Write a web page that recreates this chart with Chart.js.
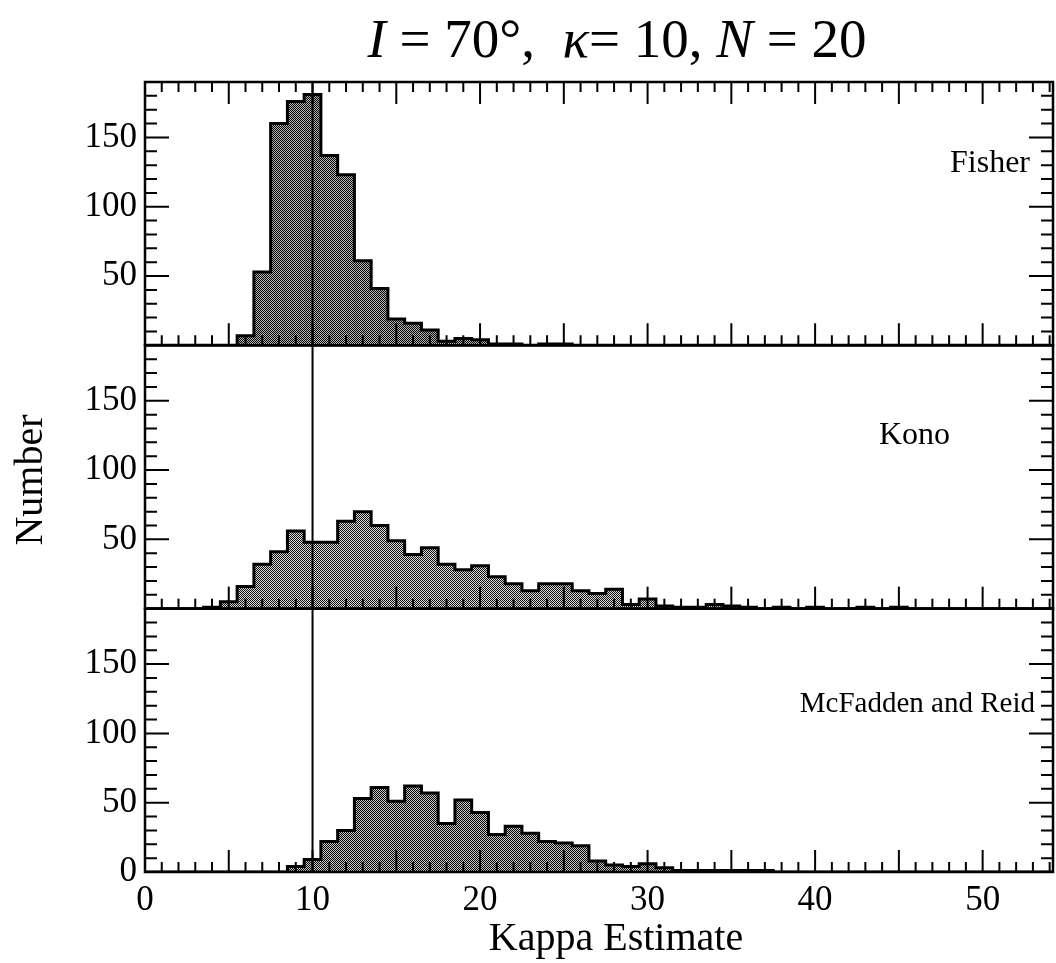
<!DOCTYPE html>
<html>
<head>
<meta charset="utf-8">
<script src="https://cdn.jsdelivr.net/npm/chart.js@4/dist/chart.umd.min.js"></script>
<style>
  html, body { margin: 0; padding: 0; background: #fff; }
  #wrap { width: 1056px; height: 963px; position: relative; }
</style>
</head>
<body>
<div id="wrap"><canvas id="c" width="1056" height="963"></canvas></div>
<script>
// Histogram bin centres (kappa estimate, bins one unit wide)
const kappaBins = [0,1,2,3,4,5,6,7,8,9,10,11,12,13,14,15,16,17,18,19,20,21,22,23,24,25,26,27,
  28,29,30,31,32,33,34,35,36,37,38,39,40,41,42,43,44,45,46,47,48,49,50,51,52,53,54];

// Counts per bin for each estimator
const fisherCounts = [0,0,0,0,0,0,7,53,160,176,181,137,123,61,41,19,16,11,3,5,4,1,1,0,1,1,0,0,
  0,0,0,0,0,0,0,0,0,0,0,0,0,0,0,0,0,0,0,0,0,0,0,0,0,0,0];
const konoCounts = [0,0,0,0,1,5,16,32,41,56,48,48,63,70,60,49,39,44,32,28,31,23,18,13,18,18,13,11,
  14,3,7,2,1,1,3,2,1,0,1,0,1,0,0,1,0,1,0,0,0,0,0,0,0,0,0];
const mcfaddenCounts = [0,0,0,0,0,0,0,0,0,4,9,22,30,53,61,51,62,57,35,52,43,27,33,28,22,21,19,8,
  5,4,6,3,1,1,1,1,1,1,0,0,0,0,0,0,0,0,0,0,0,0,0,0,0,0,0];

const panelNames = ['Fisher', 'Kono', 'McFadden and Reid'];
const xTickLabels = [0, 10, 20, 30, 40, 50];
const upperTickLabels = [50, 100, 150];
const lowerTickLabels = [0, 50, 100, 150];
const trueKappa = 10;

const SERIF = "'Liberation Serif', 'Times New Roman', serif";

// fine checker texture for the histogram fill
function checkerFill(dark, light) {
  const t = document.createElement('canvas');
  t.width = 2; t.height = 2;
  const g = t.getContext('2d');
  g.fillStyle = light; g.fillRect(0, 0, 2, 2);
  g.fillStyle = dark;
  g.fillRect(0, 0, 1, 1); g.fillRect(1, 1, 1, 1);
  return g.createPattern(t, 'repeat');
}

function histogram(counts, axisId, fill) {
  const last = kappaBins[kappaBins.length - 1];
  return [
    {
      type: 'bar',
      data: kappaBins.map((k, i) => ({ x: k, y: counts[i] })),
      yAxisID: axisId,
      backgroundColor: fill,
      borderWidth: 0,
      barPercentage: 1,
      categoryPercentage: 1,
      grouped: false,
      order: 2
    },
    {
      // step outline running along the bin edges
      type: 'line',
      data: kappaBins.map((k, i) => ({ x: k - 0.5, y: counts[i] })).concat([{ x: last + 0.5, y: 0 }]),
      yAxisID: axisId,
      stepped: 'before',
      borderColor: '#000',
      borderWidth: 3,
      pointRadius: 0,
      fill: false,
      order: 1
    }
  ];
}

function yAxis(labels) {
  return {
    type: 'linear',
    position: 'left',
    stack: 'panels',
    stackWeight: 1,
    min: 0,
    max: 190,
    grid: { display: false, drawTicks: false },
    border: { display: false },
    ticks: { color: '#000', font: { family: SERIF, size: 35 }, padding: 8 },
    afterBuildTicks: s => { s.ticks = labels.map(v => ({ value: v })); },
    afterFit: s => { s.width = 145; }
  };
}

const decor = {
  id: 'decor',
  afterDatasetsDraw(chart) {
    const { ctx, chartArea: a, scales } = chart;
    const x = scales.x;
    const panels = [scales.yF, scales.yK, scales.yM];
    ctx.save();
    ctx.strokeStyle = '#000';
    ctx.lineCap = 'butt';

    // reference line at the true kappa
    const kx = x.getPixelForValue(trueKappa);
    ctx.lineWidth = 2;
    ctx.beginPath(); ctx.moveTo(kx, a.top); ctx.lineTo(kx, a.bottom); ctx.stroke();

    panels.forEach((s, p) => {
      ctx.lineWidth = 2;
      // y ticks on both sides
      for (let v = 10; v < s.max; v += 10) {
        const py = s.getPixelForValue(v);
        const len = v % 50 === 0 ? 24 : 12;
        ctx.beginPath();
        ctx.moveTo(a.left, py); ctx.lineTo(a.left + len, py);
        ctx.moveTo(a.right, py); ctx.lineTo(a.right - len, py);
        ctx.stroke();
      }
      // x ticks along the bottom edge of the panel
      for (let k = 1; k < x.max; k++) {
        const px = x.getPixelForValue(k);
        const len = k % 5 === 0 ? 22 : 10;
        ctx.beginPath();
        ctx.moveTo(px, s.bottom); ctx.lineTo(px, s.bottom - len);
        if (p === 0) { ctx.moveTo(px, s.top); ctx.lineTo(px, s.top + len); }
        ctx.stroke();
      }
      // panel frame
      ctx.lineWidth = 2.5;
      ctx.strokeRect(a.left, s.top, a.right - a.left, s.bottom - s.top);
    });

    // panel names
    ctx.fillStyle = '#000';
    ctx.textBaseline = 'alphabetic';
    ctx.textAlign = 'right';
    const namePos = [[1030, 172, 32], [950, 444, 32], [1035, 712, 29]];
    panelNames.forEach((n, i) => {
      const [nx, ny, fs] = namePos[i];
      ctx.font = fs + 'px ' + SERIF;
      ctx.fillText(n, nx, ny);
    });
    ctx.restore();
  },
  afterDraw(chart) {
    const ctx = chart.ctx;
    ctx.save();
    ctx.fillStyle = '#000';
    // heading with italic symbols
    const parts = [
      ['I', true], [' = 70°,  ', false], ['\u03BA', true], ['= 10, ', false], ['N', true], [' = 20', false]
    ];
    const size = 55;
    let total = 0;
    parts.forEach(([t, it]) => {
      ctx.font = (it ? 'italic ' : '') + size + 'px ' + SERIF;
      total += ctx.measureText(t).width;
    });
    let cx = 617 - total / 2;
    ctx.textBaseline = 'alphabetic';
    ctx.textAlign = 'left';
    parts.forEach(([t, it]) => {
      ctx.font = (it ? 'italic ' : '') + size + 'px ' + SERIF;
      ctx.fillText(t, cx, 57);
      cx += ctx.measureText(t).width;
    });

    // axis titles
    ctx.font = '40px ' + SERIF;
    ctx.textAlign = 'center';
    ctx.fillText('Kappa Estimate', 616, 950);
    ctx.translate(42, 480);
    ctx.rotate(-Math.PI / 2);
    ctx.fillText('Number', 0, 0);
    ctx.restore();
  }
};

new Chart(document.getElementById('c'), {
  type: 'bar',
  data: {
    datasets: [
      ...histogram(fisherCounts, 'yF', checkerFill('#000', '#b4b4b4')),
      ...histogram(konoCounts, 'yK', checkerFill('#111', '#dadada')),
      ...histogram(mcfaddenCounts, 'yM', checkerFill('#000', '#c6c6c6'))
    ]
  },
  options: {
    responsive: false,
    animation: false,
    events: [],
    layout: { padding: { top: 82, right: 3, left: 0, bottom: 0 } },
    plugins: { legend: { display: false }, tooltip: { enabled: false } },
    scales: {
      x: {
        type: 'linear',
        position: 'bottom',
        offset: false,
        min: 0,
        max: 54.2,
        grid: { display: false, drawTicks: false, offset: false },
        border: { display: false },
        ticks: { color: '#000', font: { family: SERIF, size: 35 }, padding: 8, maxRotation: 0 },
        afterBuildTicks: s => { s.ticks = xTickLabels.map(v => ({ value: v })); },
        afterFit: s => { s.height = 91; }
      },
      yM: yAxis(lowerTickLabels),
      yK: yAxis(upperTickLabels),
      yF: yAxis(upperTickLabels)
    }
  },
  plugins: [decor]
});
</script>
</body>
</html>
